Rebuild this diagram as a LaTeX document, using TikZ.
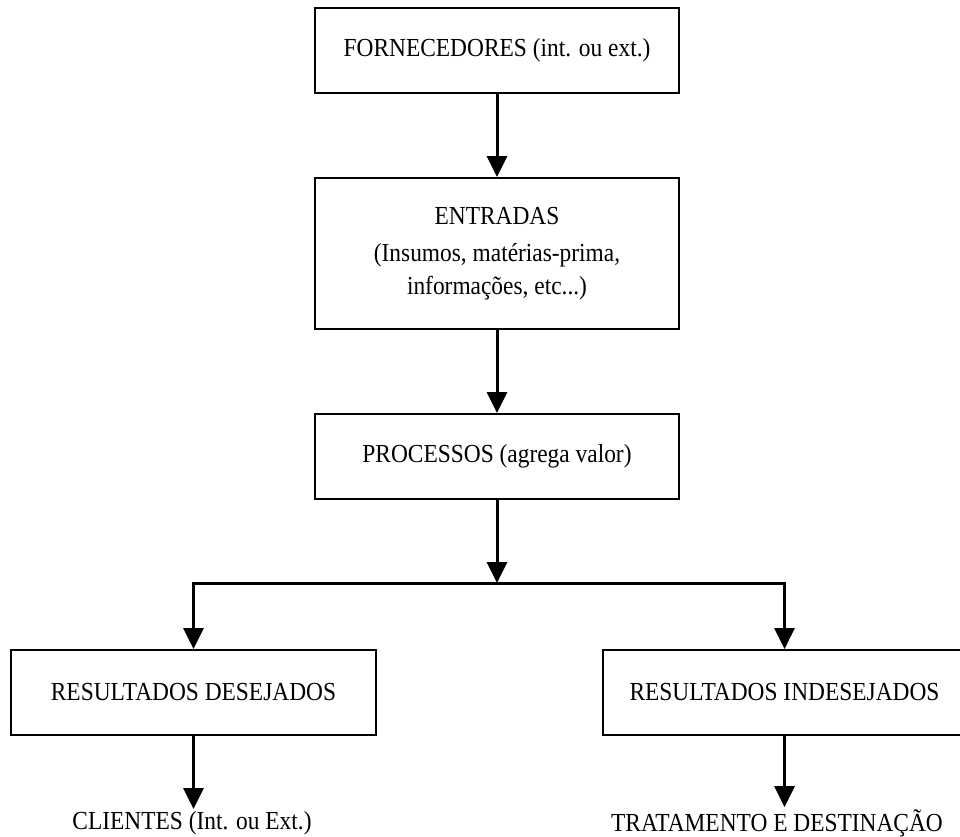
\documentclass[tikz,border=0pt]{standalone}
\usepackage{fontspec}
\setmainfont{Liberation Serif}[FakeStretch=0.9]
\usetikzlibrary{arrows.meta}
\begin{document}
\begin{tikzpicture}[x=1pt,y=-1pt,
  every node/.style={font=\fontsize{26}{33}\selectfont, text=black},
  box/.style={draw, line width=1.8pt, inner sep=0pt, align=center, minimum height=85pt},
  caption/.style={inner sep=2pt},
  arr/.style={line width=3pt, line join=miter, -{Triangle[width=20pt,length=21pt]}}]
\useasboundingbox (0,0) rectangle (960,836);
\fill[white] (0,0) rectangle (960,836);

% process chain
\node[box, minimum width=364pt] (forn) at (497,50.5) {FORNECEDORES (int. ou ext.)};
\node[box, minimum width=364pt, minimum height=151pt] (ent) at (497,253.5)
  {ENTRADAS\\[4pt](Insumos, matérias-prima,\\informações, etc...)};
\node[box, minimum width=364pt] (proc) at (497,456.5) {PROCESSOS (agrega valor)};

% results
\node[box, minimum width=365pt] (desej) at (193.5,692.5) {RESULTADOS DESEJADOS};
\node[box, minimum width=363pt] (indes) at (784.5,692.5) {RESULTADOS INDESEJADOS};

% destinations
\node[caption] (cli) at (192,823) {CLIENTES (Int. ou Ext.)};
\node[caption] (trat) at (777,823) {TRATAMENTO E DESTINAÇÃO};

\coordinate (split) at (497,583);

\draw[arr] (forn.south) -- (ent.north);
\draw[arr] (ent.south) -- (proc.north);
\draw[arr] (proc.south) -- (split);
\draw[arr] (split) -| (desej.north);
\draw[arr] (split) -| (indes.north);
\draw[arr] (desej.south) -- (desej.south |- cli.north);
\draw[arr] (indes.south) -- (indes.south |- trat.north);
\end{tikzpicture}
\end{document}
